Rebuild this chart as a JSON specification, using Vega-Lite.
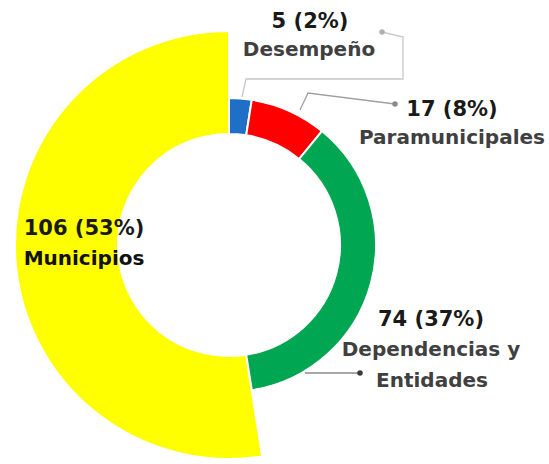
{
  "$schema": "https://vega.github.io/schema/vega-lite/v6.json",
  "width": 549,
  "height": 464,
  "autosize": {"type": "none"},
  "padding": 0,
  "background": "white",
  "config": {"view": {"stroke": null}},
  "datasets": {
    "slices": [
      {"cat": "Desempeño", "value": 5, "order": 1},
      {"cat": "Paramunicipales", "value": 17, "order": 2},
      {"cat": "Dependencias y Entidades", "value": 74, "order": 3},
      {"cat": "Municipios", "value": 106, "order": 4}
    ],
    "labels": [
      {"cat": "Desempeño", "kind": "value", "text": "5 (2%)", "lx": 81, "ly": 223},
      {"cat": "Desempeño", "kind": "name", "text": "Desempeño", "lx": 80, "ly": 195},
      {"cat": "Paramunicipales", "kind": "value", "text": "17 (8%)", "lx": 223, "ly": 135},
      {"cat": "Paramunicipales", "kind": "name", "text": "Paramunicipales", "lx": 223, "ly": 107},
      {"cat": "Dependencias y Entidades", "kind": "value", "text": "74 (37%)", "lx": 202, "ly": -75},
      {"cat": "Dependencias y Entidades", "kind": "name", "text": "Dependencias y", "lx": 202, "ly": -105},
      {"cat": "Dependencias y Entidades", "kind": "name", "text": "Entidades", "lx": 203, "ly": -136},
      {"cat": "Municipios", "kind": "value", "text": "106 (53%)", "lx": -145, "ly": 16},
      {"cat": "Municipios", "kind": "inside", "text": "Municipios", "lx": -145, "ly": -14}
    ],
    "leaders": [
      {"cat": "Desempeño", "seq": 1, "lx": 13, "ly": 148},
      {"cat": "Desempeño", "seq": 2, "lx": 17, "ly": 166},
      {"cat": "Desempeño", "seq": 3, "lx": 174, "ly": 166},
      {"cat": "Desempeño", "seq": 4, "lx": 174, "ly": 208},
      {"cat": "Desempeño", "seq": 5, "lx": 153, "ly": 213},
      {"cat": "Paramunicipales", "seq": 1, "lx": 71, "ly": 135},
      {"cat": "Paramunicipales", "seq": 2, "lx": 79, "ly": 152},
      {"cat": "Paramunicipales", "seq": 3, "lx": 166, "ly": 141},
      {"cat": "Dependencias y Entidades", "seq": 1, "lx": 76, "ly": -128},
      {"cat": "Dependencias y Entidades", "seq": 2, "lx": 131, "ly": -128}
    ],
    "dots": [
      {"cat": "Desempeño", "lx": 153, "ly": 213},
      {"cat": "Paramunicipales", "lx": 166, "ly": 141},
      {"cat": "Dependencias y Entidades", "lx": 131, "ly": -128}
    ]
  },
  "layer": [
    {
      "data": {"name": "slices"},
      "mark": {"type": "arc", "outerRadius": 214, "innerRadius": 111, "stroke": "white", "strokeWidth": 2},
      "encoding": {
        "x": {"datum": 0, "type": "quantitative", "scale": {"domain": [-229, 320], "nice": false, "zero": false}, "axis": null},
        "y": {"datum": 0, "type": "quantitative", "scale": {"domain": [-219, 245], "nice": false, "zero": false}, "axis": null},
        "theta": {"field": "value", "type": "quantitative", "stack": true},
        "order": {"field": "order", "type": "quantitative"},
        "color": {"field": "cat", "type": "nominal", "legend": null,
          "scale": {"domain": ["Desempeño", "Paramunicipales", "Dependencias y Entidades", "Municipios"],
                    "range": ["#1f6fc6", "#ff0000", "#00a651", "#ffff00"]}},
        "opacity": {"condition": {"test": "datum.cat === 'Municipios'", "value": 1}, "value": 0}
      }
    },
    {
      "data": {"name": "slices"},
      "mark": {"type": "arc", "outerRadius": 147, "innerRadius": 111, "stroke": "white", "strokeWidth": 2},
      "encoding": {
        "x": {"datum": 0, "type": "quantitative"},
        "y": {"datum": 0, "type": "quantitative"},
        "theta": {"field": "value", "type": "quantitative", "stack": true},
        "order": {"field": "order", "type": "quantitative"},
        "color": {"field": "cat", "type": "nominal", "legend": null},
        "opacity": {"condition": {"test": "datum.cat === 'Municipios'", "value": 0}, "value": 1}
      }
    },
    {
      "data": {"name": "leaders"},
      "mark": {"type": "line", "strokeWidth": 1.3},
      "encoding": {
        "x": {"field": "lx", "type": "quantitative"},
        "y": {"field": "ly", "type": "quantitative"},
        "detail": {"field": "cat"},
        "order": {"field": "seq", "type": "quantitative"},
        "stroke": {"field": "cat", "type": "nominal", "legend": null,
          "scale": {"domain": ["Desempeño", "Paramunicipales", "Dependencias y Entidades"],
                    "range": ["#c8c8c8", "#a0a0a0", "#8a8a8a"]}}
      }
    },
    {
      "data": {"name": "dots"},
      "mark": {"type": "point", "filled": true, "size": 30, "opacity": 1},
      "encoding": {
        "x": {"field": "lx", "type": "quantitative"},
        "y": {"field": "ly", "type": "quantitative"},
        "fill": {"field": "cat", "type": "nominal", "legend": null,
          "scale": {"domain": ["Desempeño", "Paramunicipales", "Dependencias y Entidades"],
                    "range": ["#b0b0b0", "#8a8a8a", "#3a3a3a"]}}
      }
    },
    {
      "data": {"name": "labels"},
      "transform": [{"filter": "datum.kind === 'value'"}],
      "mark": {"type": "text", "font": "DejaVu Sans", "fontWeight": "bold", "fontSize": 21, "align": "center", "baseline": "middle", "color": "#1a1a1a"},
      "encoding": {
        "x": {"field": "lx", "type": "quantitative"},
        "y": {"field": "ly", "type": "quantitative"},
        "text": {"field": "text"}
      }
    },
    {
      "data": {"name": "labels"},
      "transform": [{"filter": "datum.kind === 'name'"}],
      "mark": {"type": "text", "font": "DejaVu Sans", "fontWeight": "bold", "fontSize": 20, "align": "center", "baseline": "middle", "color": "#404040"},
      "encoding": {
        "x": {"field": "lx", "type": "quantitative"},
        "y": {"field": "ly", "type": "quantitative"},
        "text": {"field": "text"}
      }
    },
    {
      "data": {"name": "labels"},
      "transform": [{"filter": "datum.kind === 'inside'"}],
      "mark": {"type": "text", "font": "DejaVu Sans", "fontWeight": "bold", "fontSize": 20, "align": "center", "baseline": "middle", "color": "#111111"},
      "encoding": {
        "x": {"field": "lx", "type": "quantitative"},
        "y": {"field": "ly", "type": "quantitative"},
        "text": {"field": "text"}
      }
    }
  ]
}
